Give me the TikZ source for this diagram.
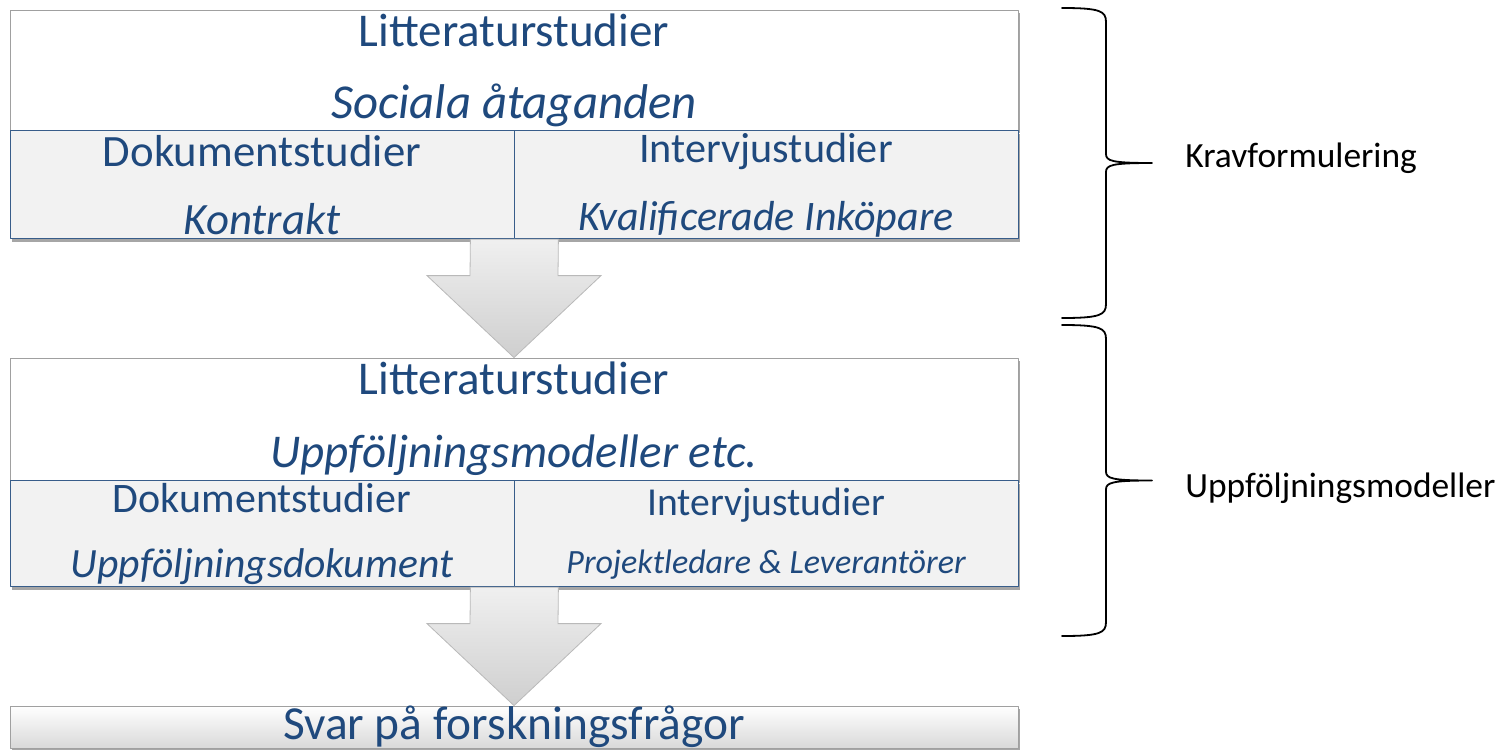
\documentclass[tikz,border=0pt]{standalone}
\usepackage{fontspec}
\setmainfont{Carlito}
\usetikzlibrary{positioning,calc,shadows}
\definecolor{txtblue}{RGB}{31,73,125}
\definecolor{cellblue}{RGB}{56,93,138}
\definecolor{framegray}{RGB}{160,160,160}
\definecolor{cellfill}{RGB}{242,242,242}
\newcommand{\fs}[2]{\fontsize{#1}{#2}\selectfont}
\tikzset{
  shadowed/.style={drop shadow={shadow xshift=1.2pt,shadow yshift=-1.5pt,opacity=.35,fill=black}},
  topbox/.style={draw=framegray,fill=white,minimum width=504pt,minimum height=60pt,inner sep=0pt,align=center,text=txtblue,shadowed},
  cellbox/.style={draw=cellblue,fill=cellfill,minimum width=252pt,minimum height=54pt,inner sep=0pt,align=center,text=txtblue,shadowed},
  endbox/.style={draw=framegray,top color=white,bottom color=gray!30,minimum width=504pt,minimum height=21pt,inner sep=0pt,text height=12pt,text depth=0pt,text=txtblue,shadowed},
  blockarrow/.style={draw=gray!55,top color=gray!12,bottom color=gray!38,line join=miter},
  bracelin/.style={draw=black,line width=.9pt},
  bracetext/.style={font=\fs{17.7}{20},anchor=base west,inner sep=0pt}
}
\begin{document}
\begin{tikzpicture}[x=.5pt,y=-.5pt,line join=round,line cap=round]
\useasboundingbox (0,0) rectangle (1506,750);
% first block
\node[topbox,font=\fs{23.5}{36}] (lit1) at (514,70) {Litteraturstudier\\{\fs{24.4}{36}\itshape Sociala åtaganden}};
\node[cellbox,anchor=north west,font=\fs{22.4}{34}] (dok1) at (lit1.south west) {Dokumentstudier\\{\itshape Kontrakt}};
\node[cellbox,anchor=north east,font=\fs{21.1}{34}] (int1) at (lit1.south east) {Intervjustudier\\{\fs{21}{34}\itshape Kvalificerade Inköpare}};
% second block
\node[topbox,minimum height=61pt,font=\fs{23.5}{36.5}] (lit2) at (514,419) {Litteraturstudier\\{\itshape Uppföljningsmodeller etc.}};
\node[cellbox,minimum height=53pt,anchor=north west,font=\fs{21}{32.5}] (dok2) at (lit2.south west) {Dokumentstudier\\{\fs{20.8}{32.5}\itshape Uppföljningsdokument}};
\node[cellbox,minimum height=53pt,anchor=north east,font=\fs{19.8}{29}] (int2) at (lit2.south east) {Intervjustudier\\{\fs{17}{29}\itshape Projektledare \& Leverantörer}};
% result
\node[endbox,font=\fs{23.7}{28}] (svar) at (514,727) {Svar på forskningsfrågor};
% arrows between the blocks
\foreach \from/\to in {dok1.south east/lit2.north, dok2.south east/svar.north}{
  \path[blockarrow] ($(\from)+(-44,0)$) -- ($(\to)+(-44,-82)$) -- ($(\to)+(-87,-82)$) -- (\to)
    -- ($(\to)+(87,-82)$) -- ($(\to)+(44,-82)$) -- ($(\from)+(44,0)$) -- cycle;
}
% braces
\foreach \top/\bot in {8/318,325/636}{
  \pgfmathsetmacro{\ymid}{(\top+\bot)/2}
  \draw[bracelin] (1062,\top) .. controls (1100,\top) and (1106,\top+3) .. (1106,\top+14)
    -- (1106,\ymid-9) .. controls (1106,\ymid-2) and (1112,\ymid) .. (1152,\ymid)
    .. controls (1112,\ymid) and (1106,\ymid+2) .. (1106,\ymid+9)
    -- (1106,\bot-14) .. controls (1106,\bot-3) and (1100,\bot) .. (1062,\bot);
}
\node[bracetext] (krav) at (1185,167) {Kravformulering};
\node[bracetext] (uppf) at (1185,497) {Uppföljningsmodeller};
\end{tikzpicture}
\end{document}
